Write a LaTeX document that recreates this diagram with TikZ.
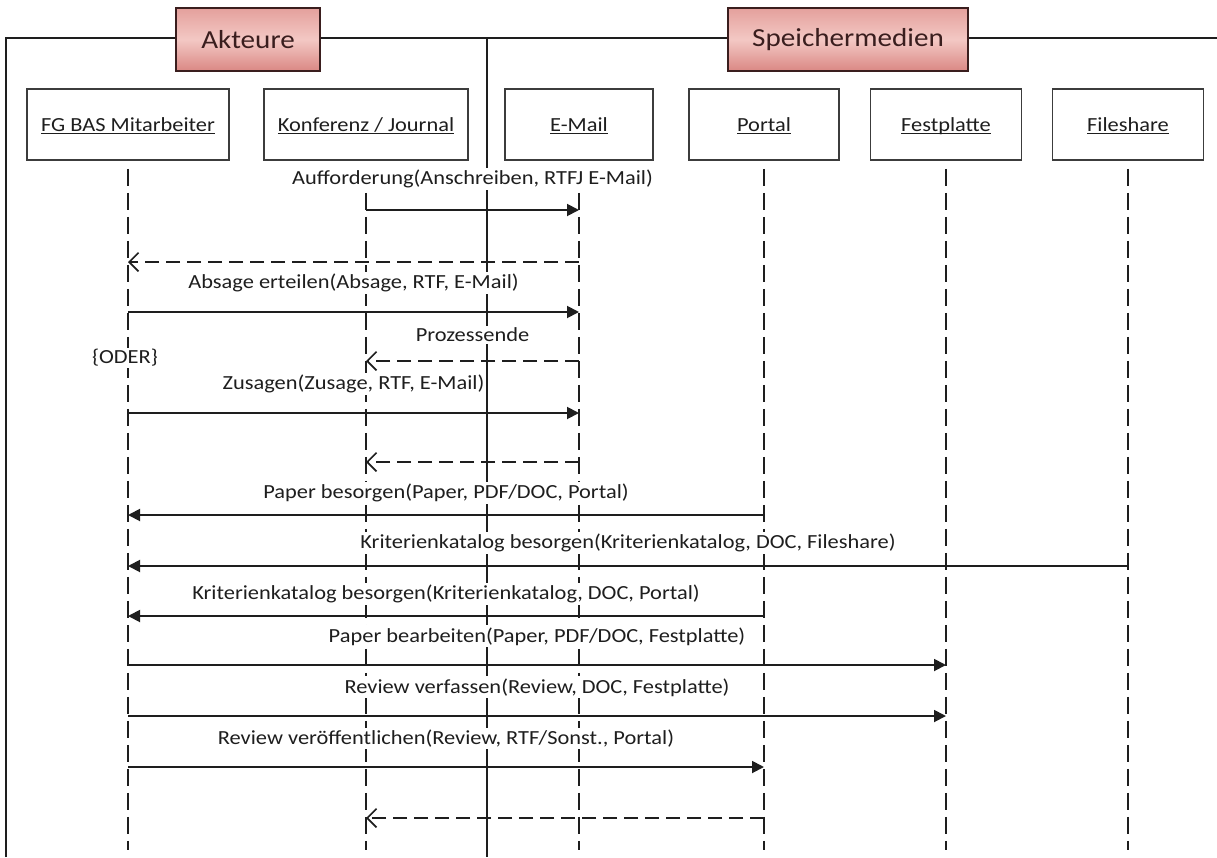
\documentclass[tikz,border=0pt]{standalone}
\usepackage{fontspec}
\setmainfont{Carlito}[FakeStretch=1.12]
\usetikzlibrary{arrows.meta}
\definecolor{hdrtop}{HTML}{E4A09C}
\definecolor{hdrmid}{HTML}{F3C8C4}
\definecolor{hdrbot}{HTML}{DA8884}
\definecolor{hdrtext}{HTML}{3A1E1E}
\definecolor{ink}{HTML}{1E1E1E}
\definecolor{boxline}{HTML}{3C3C3C}
% underlined object name, with the rule at the same depth for every name
\newcommand\objname[1]{\underline{\smash{#1}}}
\begin{document}
\begin{tikzpicture}[x=0.75pt,y=-0.75pt,
  frameline/.style={line width=1.2pt, draw=ink},
  header/.style={draw=hdrtext, line width=1.4pt, top color=hdrtop, bottom color=hdrbot, middle color=hdrmid,
    minimum height=47.25pt, inner sep=0pt, font=\fontsize{19.5}{22}\selectfont, text=hdrtext},
  lbox/.style={draw=boxline, fill=white, line width=1.2pt, minimum height=53.25pt, inner sep=0pt,
    text height=12pt, text depth=1.5pt, font=\fontsize{15}{17}\selectfont, text=ink},
  lifeline/.style={line width=1.4pt, draw=ink, dash pattern=on 12.75pt off 5.25pt},
  call/.style={line width=1.4pt, draw=ink, -{Triangle[length=9pt,width=9pt]}},
  reply/.style={line width=1.3pt, draw=ink, dash pattern=on 10.5pt off 5.25pt, -{Straight Barb[length=7pt,width=14pt]}},
  msglabel/.style={fill=white, inner sep=1.5pt, font=\fontsize{15}{17}\selectfont, text=ink, midway, yshift=21.5pt}
]
\useasboundingbox (0,0) rectangle (1217,857);

% outer frame and the split between actors and storage media
\coordinate (frameTL) at (6,38);
\coordinate (frameBL) at (6,857);
\coordinate (frameTR) at (1217,38);
\coordinate (divTop) at (487,38);
\coordinate (divBot) at (487,857);
\draw[frameline] (frameBL) -- (frameTL) -- (frameTR);
\draw[frameline] (divTop) -- (divBot);

% lifeline heads
\node[lbox, minimum width=151.5pt] (fg) at (128,124.5) {\objname{FG BAS Mitarbeiter}};
\node[lbox, minimum width=153pt] (kj) at (366,124.5) {\objname{Konferenz / Journal}};
\node[lbox, minimum width=111pt] (em) at (579,124.5) {\objname{E-Mail}};
\node[lbox, minimum width=112.5pt] (po) at (764,124.5) {\objname{Portal}};
\node[lbox, minimum width=113.25pt] (fp) at (946,124.5) {\objname{Festplatte}};
\node[lbox, minimum width=113.25pt] (fs) at (1128,124.5) {\objname{Fileshare}};

% lifelines
\foreach \n in {fg,kj,em,po,fp,fs}{
  \coordinate (\n End) at (\n.south |- 0,850);
  \draw[lifeline] ([yshift=-6pt]\n.south) -- (\n End);
}

% group headers
\node[header, minimum width=108pt] (akt) at (248,39.5) {Akteure};
\node[header, minimum width=180pt] (spm) at (848,39.5) {Speichermedien};

% messages
\draw[call] (kj.south |- 0,210) -- node[msglabel, yshift=2pt] {Aufforderung(Anschreiben, RTFJ E-Mail)} (em.south |- 0,210);
\draw[reply] (em.south |- 0,262) -- (fg.south |- 0,262);
\draw[call] (fg.south |- 0,312) -- node[msglabel] {Absage erteilen(Absage, RTF, E-Mail)} (em.south |- 0,312);
\draw[reply] (em.south |- 0,361) -- node[msglabel, yshift=-2pt] {Prozessende} (kj.south |- 0,361);
\node[fill=white, inner sep=1pt, font=\fontsize{15}{17}\selectfont, text=ink] (oder) at (125,358) {\{ODER\}};
\draw[call] (fg.south |- 0,413) -- node[msglabel] {Zusagen(Zusage, RTF, E-Mail)} (em.south |- 0,413);
\draw[reply] (em.south |- 0,462) -- (kj.south |- 0,462);
\draw[call] (po.south |- 0,515) -- node[msglabel, yshift=-5pt] {Paper besorgen(Paper, PDF/DOC, Portal)} (fg.south |- 0,515);
\draw[call] (fs.south |- 0,566) -- node[msglabel, yshift=-4pt] {Kriterienkatalog besorgen(Kriterienkatalog, DOC, Fileshare)} (fg.south |- 0,566);
\draw[call] (po.south |- 0,616) -- node[msglabel, yshift=-5pt] {Kriterienkatalog besorgen(Kriterienkatalog, DOC, Portal)} (fg.south |- 0,616);
\draw[call] (fg.south |- 0,665) -- node[msglabel] {Paper bearbeiten(Paper, PDF/DOC, Festplatte)} (fp.south |- 0,665);
\draw[call] (fg.south |- 0,716) -- node[msglabel] {Review verfassen(Review, DOC, Festplatte)} (fp.south |- 0,716);
\draw[call] (fg.south |- 0,767) -- node[msglabel] {Review veröffentlichen(Review, RTF/Sonst., Portal)} (po.south |- 0,767);
\draw[reply] (po.south |- 0,818) -- (kj.south |- 0,818);
\end{tikzpicture}
\end{document}
